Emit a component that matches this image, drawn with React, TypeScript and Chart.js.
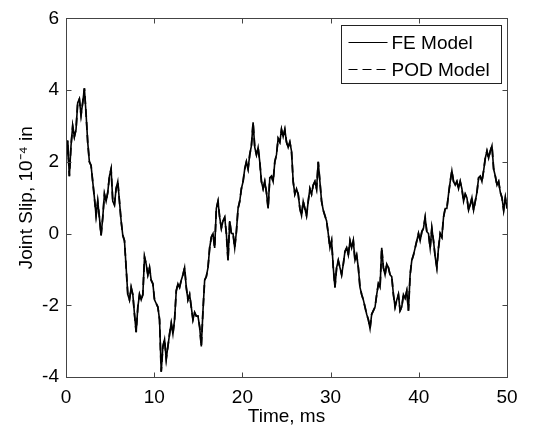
import { useEffect, useRef } from "react";
import { Chart, registerables } from "chart.js";

Chart.register(...registerables);

const feModel = [
  2.0, 2.6, 1.6, 2.45, 3.0, 2.7, 2.9, 3.65, 3.75, 3.3, 3.65, 4.05, 3.35, 2.55, 2.0, 1.9,
  1.45, 1.0, 0.5, 0.9, 0.45, -0.05, 0.45, 1.1, 0.9, 1.15, 1.6, 1.8, 0.9, 0.8, 1.25, 1.45,
  0.9, 0.35, -0.05, -0.2, -0.95, -1.7, -1.85, -1.5, -1.7, -2.25, -2.75, -2.05, -1.7, -1.85,
  -1.7, -0.65, -0.85, -1.15, -0.95, -1.3, -1.4, -1.85, -1.95, -2.05, -2.4, -3.85, -3.15,
  -2.95, -3.5, -3.15, -2.8, -2.5, -2.8, -2.4, -1.6, -1.4, -1.5, -1.3, -1.15, -0.95, -1.5,
  -1.85, -1.7, -2.05, -2.4, -2.2, -2.3, -2.3, -2.6, -3.15, -2.15, -1.3, -1.2, -0.95, -0.4,
  -0.1, 0.0, -0.4, 0.7, 0.9, 0.45, 0.15, 0.35, 0.45, 0.0, -0.75, 0.35, 0.0, 0.0, -0.4, 0.05,
  0.7, 0.9, 1.25, 1.45, 1.8, 2.0, 1.8, 2.2, 2.45, 3.1, 2.4, 2.2, 2.4, 2.0, 1.45, 1.25, 1.45,
  1.15, 0.7, 1.55, 1.6, 1.45, 2.0, 2.2, 2.65, 2.55, 2.9, 2.7, 2.9, 2.55, 2.4, 2.55, 2.3,
  1.45, 1.1, 1.25, 1.1, 0.7, 0.5, 0.9, 0.7, 0.5, 0.9, 1.25, 1.1, 1.35, 1.45, 1.25, 2.0,
  1.45, 0.9, 0.65, 0.5, 0.35, 0.0, -0.4, -0.2, -0.95, -1.5, -0.95, -0.75, -0.95, -1.15,
  -0.85, -0.5, -0.4, -0.6, -0.2, -0.4, -0.2, -0.75, -0.6, -0.95, -1.5, -1.7, -1.85, -2.05,
  -2.25, -2.4, -2.65, -2.25, -2.15, -2.05, -1.7, -1.4, -1.5, -0.4, -0.95, -1.15, -0.85,
  -0.95, -1.15, -1.2, -1.7, -2.05, -1.85, -1.7, -2.15, -2.05, -1.7, -1.8, -1.6, -2.15,
  -1.15, -0.75, -0.6, -0.4, -0.2, 0.0, -0.2, 0.05, 0.15, 0.45, 0.05, 0.0, -0.4, 0.15, -0.2,
  -0.65, -0.95, -0.4, 0.0, -0.1, 0.45, 0.7, 0.7, 1.1, 1.45, 1.75, 1.45, 1.35, 1.45, 1.25,
  1.45, 1.25, 0.9, 1.1, 1.0, 0.65, 0.8, 1.0, 0.65, 0.9, 1.15, 1.55, 1.6, 1.45, 1.75, 2.1,
  2.3, 2.1, 2.3, 2.45, 1.8, 1.6, 1.35, 1.45, 1.15, 1.0, 0.65, 1.0, 0.7,
];
// The POD model overlays the FE model almost exactly
const podModel = feModel;

const seriesLabels = ["FE Model", "POD Model"];
const xTicks = [0, 10, 20, 30, 40, 50];
const yTicks = [-4, -2, 0, 2, 4, 6];
const timeSpan = 50;

const FONT = "'Liberation Sans', Arial, Helvetica, sans-serif";

export default function App() {
  const ref = useRef<HTMLCanvasElement>(null);

  useEffect(() => {
    document.body.style.margin = "0";
    const canvas = ref.current;
    if (!canvas) return;
    const n = feModel.length;
    const toPts = (arr: number[]) =>
      arr.map((v, i) => ({ x: (i * timeSpan) / (n - 1), y: v }));

    const frame = {
      id: "frame",
      afterDraw(chart: any) {
        const { ctx, chartArea: a, scales } = chart;
        ctx.save();
        ctx.strokeStyle = "#444";
        ctx.lineWidth = 1;
        const L = Math.round(a.left) + 0.5;
        const R = Math.round(a.right) + 0.5;
        const T = Math.round(a.top) + 0.5;
        const B = Math.round(a.bottom) + 0.5;
        ctx.strokeRect(L, T, R - L, B - T);
        const tl = 5;
        ctx.beginPath();
        for (const v of xTicks) {
          const px = Math.round(scales.x.getPixelForValue(v)) + 0.5;
          ctx.moveTo(px, B);
          ctx.lineTo(px, B - tl);
          ctx.moveTo(px, T);
          ctx.lineTo(px, T + tl);
        }
        for (const v of yTicks) {
          const py = Math.round(scales.y.getPixelForValue(v)) + 0.5;
          ctx.moveTo(L, py);
          ctx.lineTo(L + tl, py);
          ctx.moveTo(R, py);
          ctx.lineTo(R - tl, py);
        }
        ctx.stroke();

        // legend
        const bx = Math.round(a.right) - 166 + 0.5;
        const by = Math.round(a.top) + 7 + 0.5;
        const bw = 160;
        const bh = 58;
        ctx.fillStyle = "#fff";
        ctx.fillRect(bx, by, bw, bh);
        ctx.strokeStyle = "#222";
        ctx.strokeRect(bx, by, bw, bh);
        chart.data.datasets.forEach((ds: any, i: number) => {
          const y = Math.round(by + 16 + i * 27) + 0.5;
          ctx.beginPath();
          ctx.setLineDash(i === 1 ? [9, 5] : []);
          ctx.strokeStyle = "#000";
          ctx.lineWidth = 1.2;
          ctx.moveTo(bx + 7, y);
          ctx.lineTo(bx + 46, y);
          ctx.stroke();
          ctx.setLineDash([]);
          ctx.fillStyle = "#000";
          ctx.font = `19px ${FONT}`;
          ctx.textBaseline = "middle";
          ctx.textAlign = "left";
          ctx.fillText(ds.label, bx + 50, y + 1);
        });
        ctx.restore();
      },
    };

    const tickFont = { family: FONT, size: 19 };

    const chart = new Chart(canvas, {
      type: "line",
      data: {
        datasets: [
          {
            label: seriesLabels[0],
            data: toPts(feModel),
            borderColor: "#000",
            borderWidth: 1.6,
            pointRadius: 0,
            tension: 0,
          },
          {
            label: seriesLabels[1],
            data: toPts(podModel),
            borderColor: "#111",
            borderWidth: 1.8,
            borderDash: [8, 5],
            pointRadius: 0,
            tension: 0,
          },
        ],
      },
      options: {
        responsive: false,
        animation: false,
        layout: { padding: { top: 15, right: 45, left: 0, bottom: 0 } },
        plugins: { legend: { display: false }, tooltip: { enabled: false } },
        scales: {
          x: {
            type: "linear",
            min: 0,
            max: 50,
            afterBuildTicks: (s: any) => {
              s.ticks = xTicks.map((v) => ({ value: v }));
            },
            afterFit: (s: any) => {
              s.height = 52;
            },
            grid: { display: false, drawTicks: false },
            border: { display: false },
            ticks: { color: "#000", font: tickFont, padding: 9, maxRotation: 0 },
            title: {
              display: true,
              text: "Time, ms",
              color: "#000",
              font: tickFont,
              padding: { top: 0, bottom: 1 },
            },
          },
          y: {
            type: "linear",
            min: -4,
            max: 6,
            afterBuildTicks: (s: any) => {
              s.ticks = yTicks.map((v) => ({ value: v }));
            },
            afterFit: (s: any) => {
              s.width = 66;
            },
            grid: { display: false, drawTicks: false },
            border: { display: false },
            ticks: { color: "#000", font: tickFont, padding: 7 },
            title: {
              display: true,
              text: "Joint Slip, 10\u207B\u2074 in",
              color: "#000",
              font: tickFont,
              padding: { top: 15, bottom: 0 },
            },
          },
        },
      },
      plugins: [frame],
    } as any);

    return () => chart.destroy();
  }, []);

  return (
    <div style={{ position: "absolute", left: 0, top: 0, width: 552, height: 429, background: "#fff" }}>
      <canvas ref={ref} width={552} height={429} style={{ width: 552, height: 429, display: "block" }} />
    </div>
  );
}
